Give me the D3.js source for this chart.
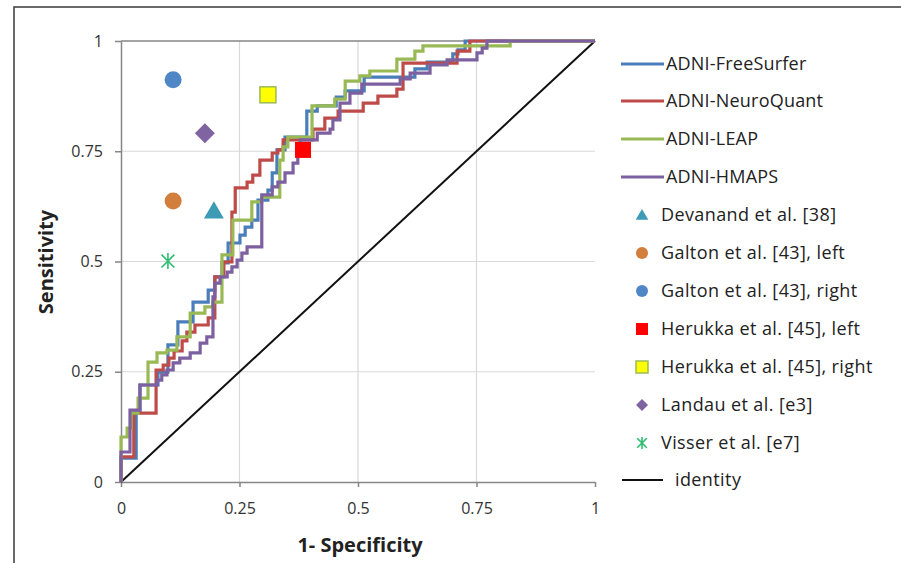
<!DOCTYPE html>
<html><head><meta charset="utf-8">
<script src="https://cdn.jsdelivr.net/npm/d3@7"></script>
<style>
html,body{margin:0;padding:0;background:#fff;}
svg{display:block;}
text{font-family:"Open Sans","Liberation Sans",sans-serif;}
</style></head>
<body><svg id="chart" width="901" height="563"></svg>
<script>
// ---- data ----
const tickValues = [0, 0.25, 0.5, 0.75, 1];
const seriesNames = ["ADNI-FreeSurfer", "ADNI-NeuroQuant", "ADNI-LEAP", "ADNI-HMAPS"];
// ROC operating points [1-specificity, sensitivity]
const freeSurfer = [[0,0],[0,0.054],[0.032,0.159],[0.040,0.220],[0.078,0.249],[0.099,0.311],[0.120,0.363],[0.152,0.408],[0.184,0.435],[0.198,0.465],[0.213,0.497],[0.226,0.542],[0.251,0.560],[0.262,0.578],[0.276,0.594],[0.289,0.639],[0.310,0.662],[0.319,0.701],[0.329,0.753],[0.346,0.782],[0.392,0.841],[0.414,0.853],[0.454,0.873],[0.473,0.887],[0.513,0.918],[0.620,0.937],[0.646,0.952],[0.700,0.971],[0.711,0.980],[0.726,1],[1,1]];
const neuroQuant = [[0,0],[0,0.057],[0.027,0.156],[0.074,0.254],[0.089,0.265],[0.101,0.281],[0.112,0.297],[0.129,0.320],[0.139,0.340],[0.156,0.356],[0.184,0.372],[0.198,0.465],[0.217,0.499],[0.234,0.612],[0.241,0.667],[0.266,0.680],[0.278,0.696],[0.293,0.730],[0.319,0.746],[0.331,0.753],[0.342,0.776],[0.405,0.800],[0.430,0.825],[0.458,0.841],[0.511,0.859],[0.542,0.875],[0.582,0.891],[0.595,0.950],[0.709,0.977],[0.736,1],[1,1]];
const leap = [[0,0],[0,0.102],[0.013,0.122],[0.021,0.156],[0.036,0.190],[0.057,0.272],[0.076,0.293],[0.097,0.299],[0.118,0.329],[0.146,0.383],[0.177,0.397],[0.194,0.408],[0.213,0.515],[0.236,0.594],[0.276,0.635],[0.297,0.646],[0.335,0.730],[0.342,0.760],[0.352,0.782],[0.403,0.853],[0.451,0.868],[0.473,0.909],[0.504,0.921],[0.525,0.932],[0.582,0.959],[0.620,0.977],[0.637,0.989],[0.821,1],[1,1]];
const hmaps = [[0,0],[0,0.068],[0.019,0.163],[0.040,0.220],[0.076,0.231],[0.086,0.243],[0.097,0.254],[0.110,0.270],[0.124,0.281],[0.146,0.293],[0.167,0.315],[0.181,0.329],[0.194,0.420],[0.198,0.451],[0.209,0.465],[0.224,0.476],[0.234,0.488],[0.245,0.503],[0.255,0.519],[0.266,0.533],[0.297,0.651],[0.319,0.669],[0.331,0.680],[0.346,0.701],[0.363,0.723],[0.373,0.753],[0.378,0.776],[0.414,0.791],[0.441,0.800],[0.447,0.821],[0.462,0.859],[0.483,0.882],[0.508,0.902],[0.589,0.914],[0.610,0.927],[0.652,0.946],[0.688,0.957],[0.751,0.973],[0.762,0.984],[0.772,1],[1,1]];
const studyNames = ["Devanand et al. [38]","Galton et al. [43], left","Galton et al. [43], right","Herukka et al. [45], left","Herukka et al. [45], right","Landau et al. [e3]","Visser et al. [e7]"];
const studyX = [0.196, 0.110, 0.110, 0.384, 0.310, 0.177, 0.099];
const studyY = [0.615, 0.637, 0.912, 0.753, 0.878, 0.791, 0.501];
const identityLine = [[0,0],[1,1]];

// ---- styles ----
const seriesColors = ["#4A7EBB", "#BE4B48", "#98B954", "#7D60A0"];
const studySymbols = ["triangle","circle","circle","square","square","diamond","asterisk"];
const studyFill = ["#3E9BB5","#D27E3C","#4F86C6","#FF0000","#FFFF00","#8064A2","#2DBE70"];
const studyStroke = [null,null,null,null,"#9BBB59",null,null];

const svg = d3.select("#chart");
const W = 901, H = 563;
// frame
svg.append("path").attr("d", `M14,${H+5} L14,7 L${W+5},7`).attr("fill","none").attr("stroke","#3a3a3a").attr("stroke-width",1.5);

const x = d3.scaleLinear().domain([0,1]).range([121,595]);
const y = d3.scaleLinear().domain([0,1]).range([482,41]);

// gridlines
const g = svg.append("g");
g.selectAll(".vg").data(tickValues.slice(1,4)).join("line")
  .attr("x1", d=>x(d)).attr("x2", d=>x(d)).attr("y1", y(0)).attr("y2", y(1))
  .attr("stroke","#D9D9D9").attr("stroke-width",1.2);
g.selectAll(".hg").data(tickValues.slice(1,4)).join("line")
  .attr("x1", x(0)).attr("x2", x(1)).attr("y1", d=>y(d)).attr("y2", d=>y(d))
  .attr("stroke","#D9D9D9").attr("stroke-width",1.2);
g.append("line").attr("x1",x(0)).attr("x2",x(1)).attr("y1",y(1)).attr("y2",y(1))
  .attr("stroke","#868686").attr("stroke-width",1.5);

// axes
const fmt = d => String(d);
const ya = svg.append("g").attr("transform",`translate(${x(0)},0)`)
  .call(d3.axisLeft(y).tickValues(tickValues).tickFormat(fmt).tickSize(6).tickPadding(12).tickSizeOuter(0));
const xa = svg.append("g").attr("transform",`translate(0,${y(0)})`)
  .call(d3.axisBottom(x).tickValues(tickValues).tickFormat(fmt).tickSize(5).tickPadding(16).tickSizeOuter(0));
[ya,xa].forEach(a=>{
  a.select(".domain").attr("stroke","#868686").attr("stroke-width",1.5);
  a.selectAll(".tick line").attr("stroke","#868686").attr("stroke-width",1.5);
  a.selectAll(".tick text").attr("fill","#333").style("font-size","16px").style("font-family","'Open Sans',sans-serif");
});

// identity
const line = d3.line().x(d=>x(d[0])).y(d=>y(d[1]));
svg.append("path").attr("d", line(identityLine)).attr("stroke","#111").attr("stroke-width",2).attr("fill","none");

// ROC curves
const stepLine = d3.line().x(d=>x(d[0])).y(d=>y(d[1])).curve(d3.curveStepAfter);
[freeSurfer, neuroQuant, leap, hmaps].forEach((s,i)=>{
  svg.append("path").attr("d", stepLine(s)).attr("fill","none")
    .attr("stroke", seriesColors[i]).attr("stroke-width",3.2).attr("stroke-linejoin","miter");
});

// markers
function drawMarker(sel, type, cx, cy, size, fill, stroke){
  const gm = sel.append("g").attr("transform",`translate(${cx},${cy})`);
  const h = size/2;
  if(type==="circle") gm.append("circle").attr("r",h).attr("fill",fill);
  else if(type==="square") gm.append("rect").attr("x",-h).attr("y",-h).attr("width",size).attr("height",size).attr("fill",fill)
      .attr("stroke",stroke||"none").attr("stroke-width",stroke?1.5:0);
  else if(type==="triangle") gm.append("path").attr("d",`M0,${-h} L${h*1.05},${h*0.8} L${-h*1.05},${h*0.8}Z`).attr("fill",fill);
  else if(type==="diamond") gm.append("path").attr("d",`M0,${-h} L${h},0 L0,${h} L${-h},0Z`).attr("fill",fill);
  else if(type==="asterisk"){
    const k=h*0.8;
    gm.append("path").attr("d",`M0,${-h} L0,${h} M${-k},${-k} L${k},${k} M${-k},${k} L${k},${-k}`)
      .attr("stroke",fill).attr("stroke-width",1.6).attr("fill","none");
  }
}
const mainSizes = {triangle:19, circle:17, square:16, diamond:20, asterisk:16};
studyNames.forEach((n,i)=>{
  drawMarker(svg, studySymbols[i], x(studyX[i]), y(studyY[i]), mainSizes[studySymbols[i]], studyFill[i], studyStroke[i]);
});

// axis titles
svg.append("text").attr("x",360).attr("y",552).attr("text-anchor","middle")
  .style("font-weight","bold").style("font-size","20px").attr("fill","#222").text("1- Specificity");
svg.append("text").attr("transform","translate(53,262) rotate(-90)").attr("text-anchor","middle")
  .style("font-weight","bold").style("font-size","20px").attr("fill","#222").text("Sensitivity");

// legend
const lg = svg.append("g");
const lineY = [64,101,139,177];
const legFont = "18px";
seriesNames.forEach((n,i)=>{
  lg.append("line").attr("x1",621).attr("x2",664).attr("y1",lineY[i]).attr("y2",lineY[i])
    .attr("stroke",seriesColors[i]).attr("stroke-width",3);
  lg.append("text").attr("x",666).attr("y",lineY[i]+6).style("font-size",legFont).style("letter-spacing","0.2px").attr("fill","#222").text(n);
});
const markY = [215,253,291,329,367,405,443];
const legSizes = {triangle:12, circle:12, square:12, diamond:12, asterisk:12};
studyNames.forEach((n,i)=>{
  drawMarker(lg, studySymbols[i], 642, markY[i], legSizes[studySymbols[i]], studyFill[i], studyStroke[i]);
  lg.append("text").attr("x",661).attr("y",markY[i]+6).style("font-size",legFont).style("letter-spacing","0.4px").attr("fill","#222").text(n);
});
lg.append("line").attr("x1",622).attr("x2",663).attr("y1",480).attr("y2",480).attr("stroke","#111").attr("stroke-width",2);
lg.append("text").attr("x",675).attr("y",486).style("font-size",legFont).style("letter-spacing","0.4px").attr("fill","#222").text("identity");
</script></body></html>
